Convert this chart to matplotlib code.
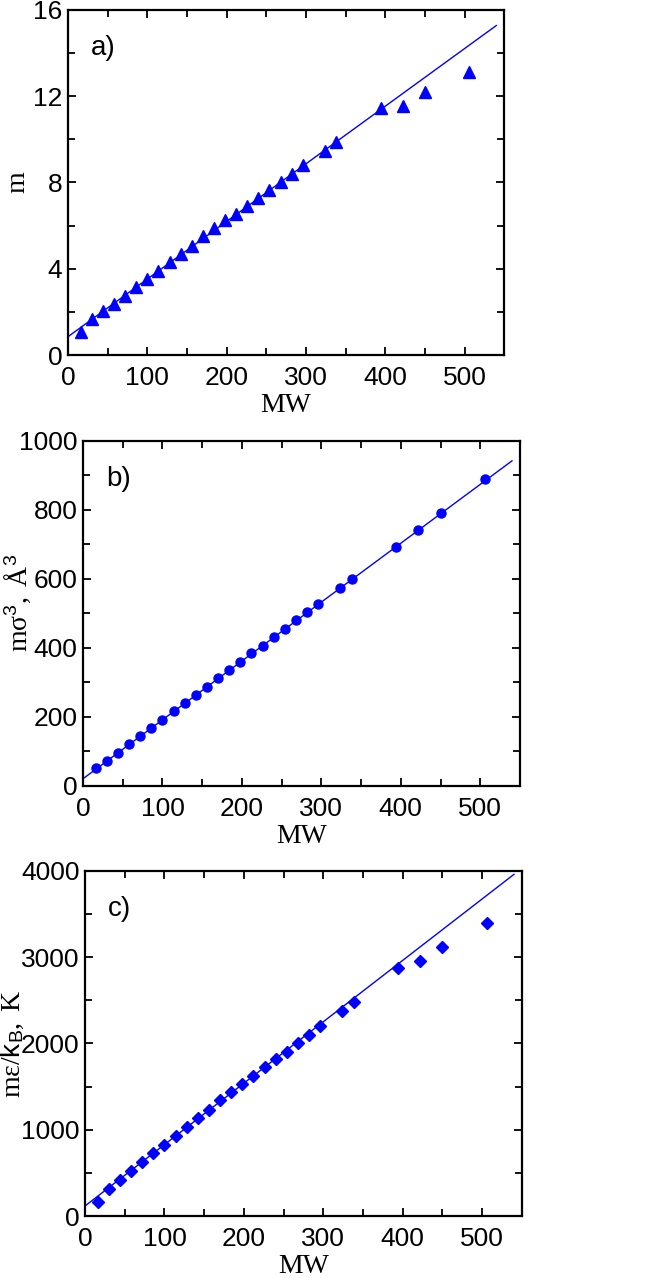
import matplotlib
matplotlib.use("Agg")
import matplotlib.pyplot as plt
import numpy as np
from matplotlib.ticker import MultipleLocator

SANS = 'Liberation Sans'
SERIF = 'Liberation Serif'

plt.rcParams['mathtext.fontset'] = 'custom'
plt.rcParams['mathtext.rm'] = SERIF
plt.rcParams['mathtext.sf'] = SANS
plt.rcParams['mathtext.it'] = SERIF + ':italic'

# Data (molecular weights of n-alkanes)
MW = [16, 30, 44, 58, 72, 86, 100, 114, 128, 142, 156, 170, 184, 198, 212,
      226, 240, 254, 268, 282, 296, 324, 338, 394, 422, 450, 506]

m_vals = [1.08, 1.67, 2.04, 2.37, 2.76, 3.14, 3.51, 3.89, 4.32, 4.69, 5.06,
          5.50, 5.88, 6.24, 6.56, 6.93, 7.28, 7.66, 8.00, 8.41, 8.82, 9.44,
          9.86, 11.47, 11.56, 12.18, 13.11]

msig3_vals = [52, 72, 96, 121, 145, 168, 192, 216, 240, 264, 288, 312, 336,
              360, 384, 407, 432, 456, 480, 503, 527, 575, 599, 693, 743, 791, 891]

meps_vals = [158, 309, 417, 517, 622, 730, 826, 931, 1035, 1139, 1232, 1340,
             1440, 1533, 1622, 1726, 1815, 1907, 2004, 2100, 2201, 2382, 2479,
             2876, 2958, 3119, 3394]

# Linear fits (intercept, slope)
fit_x = [0, 540]
fit_a = [0.85, 0.02672]
fit_b = [21.0, 1.706]
fit_c = [116.0, 7.12]

panels = [
    dict(y=m_vals, fit=fit_a, marker='^', ms=8.5, ylim=(0, 16), major=4, minor=2,
         ylabel='m', tag='a)', rect=[0.103, 0.7222, 0.661, 0.270], lx=-0.087, ly=0.5),
    dict(y=msig3_vals, fit=fit_b, marker='o', ms=6.5, ylim=(0, 1000), major=200, minor=100,
         ylabel=r'$\mathrm{m\sigma}^{\mathsf{3}}\mathrm{,\ Å}^{\mathsf{3}}$', tag='b)',
         rect=[0.1258, 0.385, 0.662, 0.270], lx=-0.114, ly=0.53),
    dict(y=meps_vals, fit=fit_c, marker='D', ms=6.0, ylim=(0, 4000), major=1000, minor=500,
         ylabel=r'$\mathrm{m\varepsilon/}\mathsf{k}_{\mathsf{B}}\mathrm{,\ K}$', tag='c)',
         rect=[0.1288, 0.0485, 0.662, 0.270], lx=-0.135, ly=0.5),
]

fig = plt.figure(figsize=(6.6, 12.78), dpi=100)
blue = '#0000ff'

for p in panels:
    ax = fig.add_axes(p['rect'])
    xf = np.array(fit_x, dtype=float)
    ax.plot(xf, p['fit'][0] + p['fit'][1] * xf, color=blue, lw=1.0, zorder=2)
    ax.plot(MW, p['y'], linestyle='none', marker=p['marker'], ms=p['ms'],
            color=blue, mec=blue, zorder=3)
    ax.set_xlim(0, 550)
    ax.set_ylim(*p['ylim'])
    ax.xaxis.set_major_locator(MultipleLocator(100))
    ax.xaxis.set_minor_locator(MultipleLocator(50))
    ax.yaxis.set_major_locator(MultipleLocator(p['major']))
    ax.yaxis.set_minor_locator(MultipleLocator(p['minor']))
    ax.tick_params(which='both', direction='in', top=True, right=True, width=1.3)
    ax.tick_params(which='major', length=6)
    ax.tick_params(which='minor', length=5)
    ax.tick_params(axis='x', which='major', labelsize=19, pad=8)
    ax.tick_params(axis='y', which='major', labelsize=19, pad=4)
    for lab in ax.get_xticklabels() + ax.get_yticklabels():
        lab.set_fontfamily(SANS)
    for s in ax.spines.values():
        s.set_linewidth(1.6)
    ax.set_xlabel('MW', fontsize=20, family=SERIF)
    ax.xaxis.set_label_coords(0.5, -0.11)
    ax.set_ylabel(p['ylabel'], fontsize=20, family=SERIF)
    ax.yaxis.set_label_coords(p['lx'], p['ly'])
    ax.text(0.053, 0.89, p['tag'], transform=ax.transAxes, fontsize=20,
            family=SANS, va='center', ha='left')

fig.savefig('out.png', dpi=100)
